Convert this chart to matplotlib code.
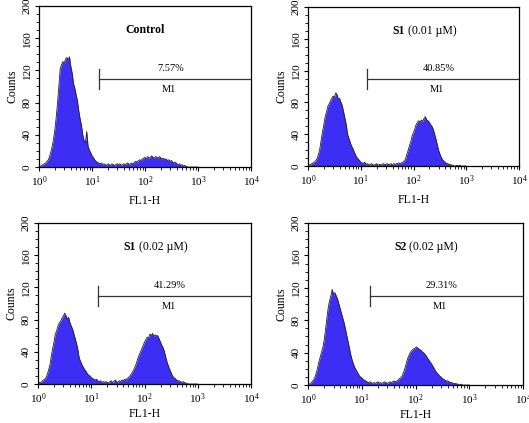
import numpy as np
import matplotlib
matplotlib.use("Agg")
import matplotlib.pyplot as plt
from matplotlib.ticker import LogLocator, MultipleLocator, LogFormatterSciNotation

plt.rcParams['font.family'] = ['Liberation Serif', 'DejaVu Serif']
plt.rcParams['mathtext.fontset'] = 'custom'
plt.rcParams['mathtext.rm'] = 'Liberation Serif'
plt.rcParams['mathtext.default'] = 'regular'

# ============================= DATA =============================
# channel positions: log10(FL1-H) from 0 to 3 in steps of 0.025
log_channels = np.arange(121) * 0.025

control_counts = [
    0, 1, 2, 3, 4, 5, 7, 9, 13, 19,
    26, 35, 47, 62, 80, 101, 122, 127, 131, 129,
    134, 136, 133, 137, 125, 117, 104, 98, 90, 82,
    70, 60, 52, 40, 33, 30, 44, 26, 21, 18,
    14, 12, 9, 7, 6, 5, 4, 5, 3, 4,
    3, 2, 4, 3, 2, 4, 3, 2, 3, 4,
    3, 4, 2, 3, 4, 3, 4, 5, 3, 4,
    5, 4, 6, 7, 6, 8, 9, 8, 10, 11,
    12, 10, 13, 11, 12, 14, 12, 11, 13, 12,
    11, 13, 11, 10, 11, 9, 10, 8, 9, 7,
    8, 6, 5, 6, 4, 3, 4, 2, 3, 1,
    2, 1, 0, 0, 0, 0, 0, 0, 0, 0,
    0,
]
s1_001_counts = [
    2, 1, 2, 3, 4, 5, 7, 10, 15, 22,
    33, 43, 52, 62, 68, 75, 78, 82, 85, 88,
    86, 92, 90, 84, 85, 80, 76, 68, 60, 52,
    40, 35, 30, 25, 22, 18, 14, 11, 9, 7,
    5, 4, 3, 5, 2, 3, 2, 1, 3, 2,
    1, 2, 3, 1, 2, 2, 1, 3, 2, 2,
    3, 2, 2, 3, 1, 3, 2, 3, 3, 4,
    3, 4, 5, 6, 9, 15, 20, 26, 31, 38,
    42, 47, 52, 55, 57, 55, 58, 56, 60, 62,
    58, 57, 55, 52, 50, 46, 40, 34, 27, 20,
    15, 11, 8, 6, 5, 3, 3, 2, 2, 1,
    1, 0, 0, 1, 0, 1, 0, 0, 0, 0,
    0,
]
s1_002_counts = [
    1, 2, 2, 3, 5, 6, 8, 12, 18, 24,
    35, 44, 52, 62, 66, 72, 76, 78, 82, 84,
    88, 85, 80, 83, 76, 72, 68, 62, 56, 50,
    42, 32, 28, 24, 21, 18, 16, 13, 11, 10,
    8, 7, 6, 5, 6, 4, 3, 4, 2, 3,
    2, 3, 2, 1, 3, 4, 2, 3, 5, 3,
    2, 4, 3, 5, 4, 6, 5, 7, 8, 10,
    12, 15, 18, 22, 26, 32, 36, 40, 44, 48,
    52, 55, 58, 57, 62, 60, 63, 59, 61, 60,
    60, 56, 52, 48, 45, 40, 33, 27, 22, 18,
    14, 10, 8, 7, 5, 4, 4, 3, 2, 3,
    2, 1, 1, 0, 0, 0, 0, 0, 0, 0,
    0,
]
s2_002_counts = [
    0, 1, 2, 4, 6, 9, 14, 20, 28, 34,
    40, 46, 55, 68, 82, 95, 104, 110, 118, 112,
    114, 110, 106, 100, 94, 88, 82, 76, 68, 60,
    52, 44, 36, 30, 25, 21, 18, 15, 12, 10,
    9, 7, 6, 5, 4, 3, 4, 3, 2, 3,
    2, 3, 4, 2, 3, 2, 3, 4, 3, 2,
    3, 4, 3, 4, 5, 4, 5, 6, 8, 9,
    11, 15, 20, 26, 32, 36, 40, 42, 44, 45,
    46, 47, 45, 44, 43, 41, 40, 38, 36, 33,
    31, 28, 26, 23, 20, 17, 15, 13, 11, 10,
    8, 7, 6, 5, 5, 4, 3, 3, 2, 2,
    2, 1, 1, 0, 1, 0, 0, 0, 0, 0,
    0,
]

sample_names = ["Control", "S1", "S1", "S2"]
sample_doses = ["", " (0.01 \u00b5M)", " (0.02 \u00b5M)", " (0.02 \u00b5M)"]
m1_percents = ["7.57%", "40.85%", "41.29%", "29.31%"]
m1_start = [13.5, 13.2, 13.3, 14.1]
all_counts = [control_counts, s1_001_counts, s1_002_counts, s2_002_counts]

# axes boxes in pixels: left, right, top, bottom
W, H = 529, 423
boxes = [(39, 251, 6, 167), (308, 519, 7, 166), (38, 251, 223, 384), (308, 523, 223, 385)]
xlabel_pads = [5, 5, 2, 2]

fill_color = "#3c2ef2"

# ============================= PLOT =============================
fig = plt.figure(figsize=(W / 100, H / 100), dpi=100)

for i in range(4):
    l, r, t, b = boxes[i]
    ax = fig.add_axes([l / W, (H - b) / H, (r - l) / W, (b - t) / H])
    x = 10 ** log_channels
    y = np.array(all_counts[i])
    ax.fill_between(x, y, 0, color=fill_color, lw=0)
    ax.plot(x, y, color="#222222", lw=0.6)

    ax.set_xscale("log")
    ax.set_xlim(1, 1e4)
    ax.set_ylim(0, 200)
    ax.xaxis.set_major_locator(LogLocator(base=10, numticks=10))
    ax.xaxis.set_minor_locator(LogLocator(base=10, subs=np.arange(2, 10), numticks=20))
    ax.xaxis.set_major_formatter(LogFormatterSciNotation())
    ax.yaxis.set_major_locator(MultipleLocator(40))
    ax.yaxis.set_minor_locator(MultipleLocator(10))
    ax.tick_params(which="major", direction="out", length=3, width=0.8, labelsize=8, pad=2)
    ax.tick_params(which="minor", direction="out", length=2, width=0.6)
    for lab in ax.get_yticklabels():
        lab.set_rotation(90)
        lab.set_va("center")
    for s in ax.spines.values():
        s.set_linewidth(0.9)

    ax.set_xlabel("FL1-H", fontsize=8.5, labelpad=xlabel_pads[i])
    ax.set_ylabel("Counts", fontsize=8.5, labelpad=3)

    # M1 marker
    x0 = m1_start[i]
    ax.plot([x0, x0], [97, 122], color="#333333", lw=0.9)
    ax.plot([x0, 1e4], [109.5, 109.5], color="#333333", lw=0.9, clip_on=False)
    ax.text(10 ** 2.48, 122.5, m1_percents[i], ha="center", va="center", fontsize=7.5)
    ax.text(10 ** 2.45, 96.5, "M1", ha="center", va="center", fontsize=7.5)

    # sample title
    if sample_doses[i] == "":
        ax.text(100, 170, sample_names[i], ha="center", va="center",
                fontsize=8.5, fontweight="bold")
    else:
        t1 = ax.text(10 ** 1.6, 170, sample_names[i], ha="left", va="center",
                     fontsize=8.5, fontweight="bold")
        ax.annotate(sample_doses[i], xy=(1, 0.5), xycoords=t1, ha="left", va="center",
                    fontsize=8.5)

fig.savefig("out.png", dpi=100)
